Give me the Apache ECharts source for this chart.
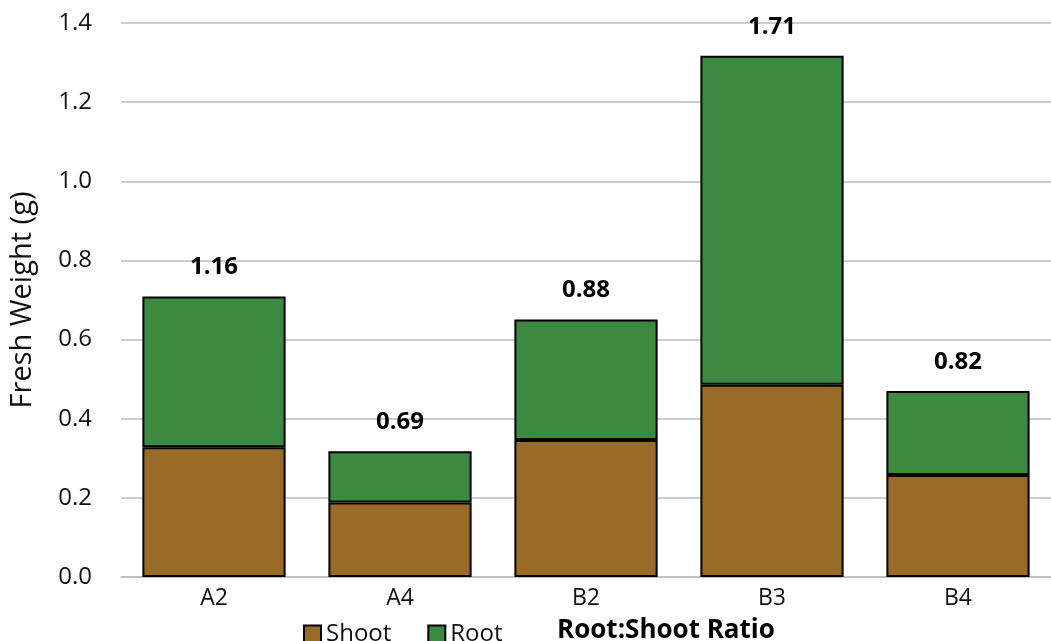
<!DOCTYPE html>
<html>
<head>
<meta charset="utf-8">
<script src="https://cdn.jsdelivr.net/npm/echarts@6/dist/echarts.min.js"></script>
<style>
  html, body { margin: 0; padding: 0; background: #fff; }
  #chart { width: 1051px; height: 641px; }
</style>
</head>
<body>
<div id="chart"></div>
<script>
// Fresh weight per line, split into shoot and root (g)
const categories = ['A2', 'A4', 'B2', 'B3', 'B4'];
const shoot = [0.328, 0.188, 0.346, 0.486, 0.258];
const root = [0.381, 0.130, 0.305, 0.831, 0.212];
// Root:shoot ratio printed above each stacked bar
const ratio = ['1.16', '0.69', '0.88', '1.71', '0.82'];
const yTicks = ['0.0', '0.2', '0.4', '0.6', '0.8', '1.0', '1.2', '1.4'];

const FONT = '"Open Sans", "Noto Sans", sans-serif';
const TEXT = '#111111';
const SHOOT_COLOR = '#9a6b27';
const ROOT_COLOR = '#3b8a3f';

const chart = echarts.init(document.getElementById('chart'), null, { renderer: 'canvas' });

chart.setOption({
  animation: false,
  backgroundColor: '#ffffff',
  textStyle: { fontFamily: FONT },
  grid: { left: 116, right: -5, top: 23, bottom: 64, containLabel: false },
  xAxis: {
    type: 'category',
    data: categories,
    axisLine: { show: true, lineStyle: { color: '#bdbdbd', width: 1.5 } },
    axisTick: { show: false },
    axisLabel: { color: TEXT, fontSize: 23, fontFamily: FONT, margin: 10 }
  },
  yAxis: {
    type: 'value',
    min: 0,
    max: 1.4,
    interval: 0.2,
    name: 'Fresh Weight (g)',
    nameLocation: 'middle',
    nameGap: 84,
    nameTextStyle: { color: TEXT, fontSize: 29, fontFamily: FONT },
    axisLine: { show: false },
    axisTick: { show: false },
    splitLine: { show: true, lineStyle: { color: '#bdbdbd', width: 1.5 } },
    axisLabel: {
      color: TEXT,
      fontSize: 24,
      fontFamily: FONT,
      margin: 29,
      formatter: (v) => yTicks[Math.round(v / 0.2)]
    }
  },
  legend: {
    data: ['Shoot', 'Root'],
    left: 298,
    top: 617,
    itemWidth: 17,
    itemHeight: 17,
    itemGap: 36,
    icon: 'rect',
    textStyle: { color: TEXT, fontSize: 24, fontFamily: FONT }
  },
  graphic: [{
    type: 'text',
    left: 557,
    top: 618,
    style: {
      text: 'Root:Shoot Ratio',
      fill: '#000',
      font: 'bold 26px ' + FONT
    }
  }],
  series: [
    {
      name: 'Shoot',
      type: 'bar',
      stack: 'weight',
      data: shoot,
      barWidth: '77%',
      itemStyle: { color: SHOOT_COLOR, borderColor: '#000', borderWidth: 2 }
    },
    {
      name: 'Root',
      type: 'bar',
      stack: 'weight',
      data: root,
      barWidth: '77%',
      itemStyle: { color: ROOT_COLOR, borderColor: '#000', borderWidth: 2 },
      label: {
        show: true,
        position: 'top',
        distance: 17,
        color: '#000',
        fontSize: 24,
        fontWeight: 'bold',
        fontFamily: FONT,
        formatter: (p) => ratio[p.dataIndex]
      }
    }
  ]
});
</script>
</body>
</html>
